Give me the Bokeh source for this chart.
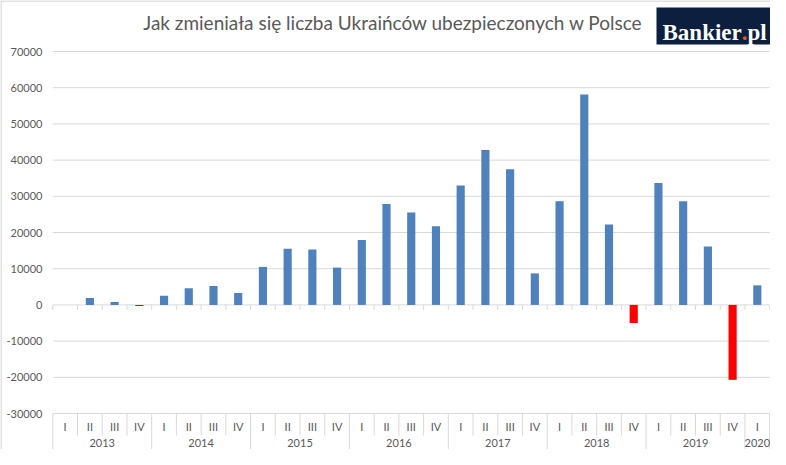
from bokeh.plotting import figure
from bokeh.models import Range1d, Label, BoxAnnotation
from bokeh.core.properties import value
from bokeh.embed import file_html
from bokeh.resources import INLINE

# ---- data ----
year = ["2013"] * 4 + ["2014"] * 4 + ["2015"] * 4 + ["2016"] * 4 + \
       ["2017"] * 4 + ["2018"] * 4 + ["2019"] * 4 + ["2020"]
quarter = ["I", "II", "III", "IV"] * 7 + ["I"]
change = [0, 1900, 800, -300,
          2500, 4600, 5200, 3300,
          10500, 15500, 15300, 10300,
          17900, 27900, 25500, 21700,
          33000, 42800, 37500, 8700,
          28600, 58100, 22200, -5000,
          33700, 28600, 16100, -20700,
          5400]
yticks = [-30000, -20000, -10000, 0, 10000, 20000, 30000, 40000, 50000, 60000, 70000]
ytick_labels = [str(t) for t in yticks]
title_text = "Jak zmieniała się liczba Ukraińców ubezpieczonych w Polsce"

# ---- layout helpers (pixel -> data) ----
W, H = 770, 449
FL = 52.3          # px of left edge of category area
PXU = 24.72        # px per category
TOP_PX = 51        # px of top tick
PYU = 0.00362      # px per unit
n = len(change)

def dx(px):
    return -0.5 + (px - FL) / PXU

def dy(px):
    return yticks[-1] - (px - TOP_PX) / PYU

GRAY = "#595959"
GRID = "#d9d9d9"

p = figure(width=W, height=H, output_backend="svg", toolbar_location=None,
           x_range=Range1d(dx(0), dx(W)), y_range=Range1d(dy(H), dy(0)),
           x_axis_location=None, y_axis_location=None,
           min_border_left=0, min_border_right=0,
           min_border_top=0, min_border_bottom=0)
p.outline_line_color = None
p.xgrid.visible = False
p.ygrid.visible = False
p.background_fill_color = "white"
p.border_fill_color = "white"

# outer chart border (left and top edges)
p.segment(x0=[dx(0.5), dx(0)], x1=[dx(0.5), dx(W)], y0=[dy(0), dy(0.5)], y1=[dy(H), dy(0.5)],
          line_color=GRID, line_width=1.5)

# y tick labels
p.text(x=[dx(42)] * len(yticks), y=yticks, text=ytick_labels, text_font=value("Lato"),
       text_font_size="11px", text_color=GRAY, text_align="right", text_baseline="middle")

# gridlines
p.segment(x0=[-0.5] * len(yticks), x1=[n - 0.5] * len(yticks), y0=yticks, y1=yticks,
          line_color=GRID, line_width=1)

# small ticks on zero line at category boundaries
bounds = [i - 0.5 for i in range(n + 1)]
tick_len = 5 / PYU
p.segment(x0=bounds, x1=bounds, y0=[0] * len(bounds), y1=[-tick_len] * len(bounds),
          line_color=GRID, line_width=1)

# bars
xs = list(range(n))
colors = ["#ff0000" if v < 0 else "#4f81bd" for v in change]
p.vbar(x=xs, top=change, bottom=0, width=0.33, fill_color=colors,
       line_color=None)

# category axis (two levels)
is_year_edge = [i == 0 or i == n or year[i] != year[i - 1] for i in range(n + 1)]
bottom_short = dy(435)
bottom_long = dy(H)
p.segment(x0=bounds, x1=bounds, y0=[yticks[0]] * len(bounds),
          y1=[bottom_long if e else bottom_short for e in is_year_edge],
          line_color=GRID, line_width=1)

p.text(x=xs, y=[dy(425.5)] * n, text=quarter, text_font=value("Lato"),
       text_font_size="11px", text_color=GRAY, text_align="center",
       text_baseline="middle")

uniq_years = []
for y in year:
    if y not in uniq_years:
        uniq_years.append(y)
year_centers = [sum(i for i in range(n) if year[i] == y) / year.count(y) for y in uniq_years]
p.text(x=year_centers, y=[dy(442)] * len(uniq_years), text=uniq_years,
       text_font=value("Lato"), text_font_size="11px", text_color=GRAY,
       text_align="center", text_baseline="middle")

# title
p.add_layout(Label(x=dx(392.5), y=dy(22), text=title_text, text_font="Lato",
                   text_font_size="19px", text_color=GRAY, text_align="center",
                   text_baseline="middle"))

# logo
p.add_layout(BoxAnnotation(left=dx(656), right=dx(770), top=dy(7), bottom=dy(44),
                           fill_color="#0c1f3f", fill_alpha=1, line_color=None))
p.add_layout(Label(x=dx(662), y=dy(32), text="Bankier", text_font="Liberation Serif",
                   text_font_style="bold", text_font_size="23px", text_color="white",
                   text_align="left", text_baseline="alphabetic"))
p.add_layout(Label(x=dx(744), y=dy(32), text=".", text_font="Liberation Serif",
                   text_font_style="bold", text_font_size="23px", text_color="#e8541e",
                   text_align="center", text_baseline="alphabetic"))
p.add_layout(Label(x=dx(747), y=dy(32), text="pl", text_font="Liberation Serif",
                   text_font_style="bold", text_font_size="23px", text_color="white",
                   text_align="left", text_baseline="alphabetic"))

open("out.html", "w").write(file_html(p, INLINE))
